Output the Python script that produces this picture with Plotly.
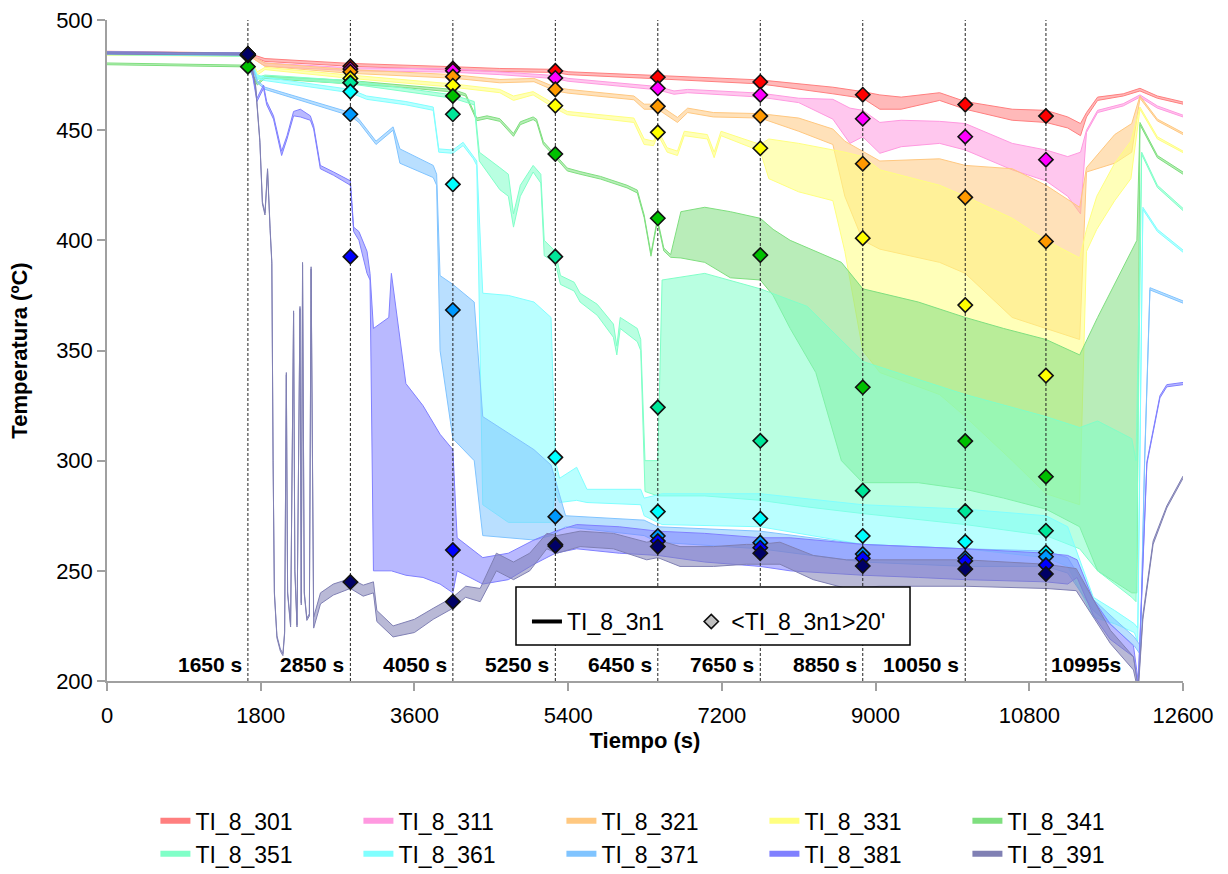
import plotly.graph_objects as go

# ---------------- data ----------------
names = ["TI_8_301", "TI_8_311", "TI_8_321", "TI_8_331", "TI_8_341",
         "TI_8_351", "TI_8_361", "TI_8_371", "TI_8_381", "TI_8_391"]

# each thermocouple: time (s), upper and lower envelope of the signal (ºC)
t_301 = [0, 1650, 1850, 2850, 4050, 4600, 5250, 5400, 6450, 7650,
         8500, 8850, 9050, 9300, 9750, 10050, 10600, 10995, 11250, 11400,
         11470, 11600, 11900, 12096, 12300, 12600]
hi_301 = [485.8, 485, 482.5, 480.3, 478.8, 478, 477.6, 476.5, 474.8, 472.8,
          469.5, 467.5, 466, 465, 467, 463, 459.5, 459, 456, 453,
          458, 465, 466.5, 469, 465.5, 462.8]
lo_301 = [485, 484.2, 481.2, 479, 477.3, 476.6, 476.2, 475.2, 473.3, 471,
          466.5, 464.5, 459.5, 459.5, 463.5, 459.5, 454.5, 453.5, 451, 447.5,
          456, 463.5, 465.5, 467.8, 464.5, 461.8]

t_311 = [0, 1650, 1850, 2850, 4050, 4600, 5250, 5400, 6450, 6640,
         6800, 7650, 8100, 8500, 8700, 8850, 9050, 9300, 9750, 10050,
         10600, 10995, 11250, 11400, 11470, 11600, 11900, 12096, 12300, 12600]
hi_311 = [485.5, 485, 480.5, 478.3, 477.8, 476.5, 474.8, 473.5, 469.8, 467.8,
          468.5, 466.8, 464.5, 464, 460, 459, 453.5, 454.5, 454, 453,
          444, 441, 438, 440, 450, 459, 462, 466, 461, 456.8]
lo_311 = [484.7, 484.2, 479, 477, 476.3, 475.2, 473.4, 472.2, 468.3, 466.3,
          467, 465, 462.5, 455, 444, 447, 439.5, 442.5, 444, 441,
          432, 427, 420, 412, 449, 458, 461, 465, 460, 456]

t_321 = [0, 1650, 1850, 2850, 4050, 4600, 5000, 5250, 5400, 6170,
         6290, 6450, 6680, 6800, 7100, 7650, 8100, 8500, 8640, 8850,
         9050, 9750, 10050, 10600, 10995, 11390, 11470, 11800, 12000, 12096,
         12300, 12600]
hi_321 = [485.3, 484.8, 480.5, 477.5, 475.2, 473, 473.5, 469.5, 468.5, 465.5,
          461.8, 461.8, 455.8, 460, 458, 457.5, 455.5, 450.5, 445, 440.5,
          436, 437, 434, 432.5, 425, 415, 433, 448, 453, 465.5,
          455, 448.8]
lo_321 = [484.5, 484, 479, 475.8, 473.6, 471.5, 472, 467.8, 466.8, 463.8,
          459.5, 459.5, 453.5, 458, 456, 455.5, 449.5, 443.5, 420, 400,
          396, 390, 385, 365, 360, 355, 431, 435, 440, 464.5,
          454.2, 448]

t_331 = [0, 1650, 1760, 1850, 2850, 4050, 4600, 4760, 4990, 5250,
         5390, 6170, 6290, 6400, 6450, 6560, 6680, 6760, 7030, 7110,
         7190, 7650, 7750, 8100, 8500, 8640, 8850, 9050, 9750, 10050,
         10600, 10995, 11390, 11470, 11590, 11800, 11990, 12096, 12300, 12600]
hi_331 = [484.8, 484.2, 476.5, 478.5, 475, 471, 468.5, 465.5, 467.5, 461.5,
          458.5, 455.5, 446, 445, 450, 442, 440.5, 449.5, 448, 440,
          449.5, 443.5, 446, 444, 441, 440, 438, 432, 425, 420,
          410, 400, 392, 405, 420, 435, 445, 460.5, 447, 440.5]
lo_331 = [484, 483.5, 475, 477.5, 473.5, 469.5, 467, 463.5, 466, 459.8,
          457, 453.5, 443.5, 443, 448, 440, 438.5, 447.5, 446, 437.5,
          447.5, 440.5, 428, 422, 418, 395, 350, 340, 330, 320,
          300, 285, 280, 395, 405, 418, 428, 459.5, 446, 439.8]

t_341 = [0, 1650, 1760, 1850, 2850, 3500, 4050, 4200, 4330, 4450,
         4600, 4760, 4840, 4990, 5030, 5110, 5250, 5390, 5540, 5780,
         6090, 6210, 6290, 6370, 6445, 6520, 6600, 6720, 7000, 7300,
         7650, 7800, 8000, 8300, 8600, 8850, 9500, 10050, 10500, 10995,
         11390, 11600, 11800, 12000, 12060, 12096, 12300, 12600]
hi_341 = [480.5, 479.5, 471.5, 474.5, 472.5, 470.5, 468.5, 466.5, 455.5, 456.5,
          455.2, 448.5, 453.8, 456, 455, 444.8, 438.8, 432.8, 431.2, 429,
          425, 422.8, 411.5, 394, 409.8, 396.5, 393.5, 413, 415, 413,
          410, 405, 400, 395, 390, 378, 372, 365, 360, 355,
          348, 365, 380, 395, 400, 453.5, 438.5, 431]
lo_341 = [479.7, 478.7, 470.5, 473.5, 471, 469.3, 467.3, 465.5, 454.3, 455.3,
          454, 447.2, 452.5, 454.8, 453.8, 443.5, 437.6, 431.5, 430, 427.8,
          423.8, 421.5, 410.3, 392.8, 408.6, 395.2, 392.3, 392, 390, 383,
          382, 375, 360, 340, 300, 290, 290, 287, 283, 278,
          270, 250, 245, 240, 240, 452.5, 437.5, 430]

t_351 = [0, 1650, 1760, 1850, 2850, 3500, 4050, 4300, 4360, 4600,
         4700, 4760, 4840, 4990, 5080, 5120, 5250, 5310, 5470, 5540,
         5740, 5930, 5970, 6010, 6210, 6250, 6300, 6450, 6500, 7000,
         7650, 8200, 8850, 10050, 10995, 11390, 11600, 12000, 12050, 12116,
         12300, 12600]
hi_351 = [485, 484.2, 474, 475, 472.5, 469, 466, 463, 440, 433,
          430, 412, 425, 434, 430, 400, 395, 384, 381, 376,
          371, 362, 352, 365, 360, 355, 300, 300, 382, 385,
          378, 370, 345, 330, 320, 315, 318, 310, 300, 440,
          425, 414.5]
lo_351 = [484.3, 483.5, 473, 474, 471, 467.5, 464.5, 461.5, 436, 423,
          420, 406, 420, 431, 426, 393, 390, 380, 377, 372,
          366, 356, 348, 360, 354, 350, 286, 284, 284, 284,
          282, 279, 276, 271, 266, 260, 250, 238, 236, 439,
          424, 413.5]

t_361 = [0, 1650, 1760, 1850, 2850, 3040, 3500, 3820, 3885, 4050,
         4170, 4290, 4330, 4400, 4700, 5000, 5200, 5250, 5300, 5500,
         5620, 6250, 6290, 6500, 7650, 8850, 10050, 10995, 11250, 11550,
         11800, 12030, 12070, 12130, 12300, 12600]
hi_361 = [485, 484.5, 475, 474, 468.5, 465.5, 463, 460.5, 441.5, 441,
          444.5, 438.5, 436, 376, 375, 372, 365, 300, 292, 297,
          287, 287, 283, 285, 285, 280, 278, 275, 270, 238,
          232, 226, 224, 415, 405, 395.6]
lo_361 = [484.3, 483.8, 473.5, 472.5, 467, 464, 461.5, 459, 440, 439.5,
          443, 437, 434, 280, 272, 272, 272, 286, 281, 282,
          281, 280, 275, 271, 270, 262, 260, 256, 252, 229,
          226, 222, 218, 414, 404, 394.6]

t_371 = [0, 1650, 1760, 1850, 2850, 2950, 3150, 3350, 3430, 3820,
         3860, 3900, 4050, 4300, 4400, 5000, 5200, 5370, 6290, 6450,
         7650, 8850, 10050, 10995, 11250, 11550, 11800, 12030, 12100, 12150,
         12213, 12600]
hi_371 = [485.5, 485, 472.5, 469.5, 458, 455, 445, 451.5, 441.5, 434,
          430, 384, 380, 372, 320, 305, 298, 275, 273, 270,
          268, 262, 260, 259, 256, 237, 228, 220, 216, 300,
          378.5, 372.5]
lo_371 = [484.8, 484.3, 471.5, 468.5, 456.5, 453.5, 443.5, 450, 435, 428.5,
          425, 350, 310, 300, 266, 264, 266, 270, 266, 263,
          260, 254, 252, 252, 249, 232, 224, 216, 212, 298,
          377.5, 371.5]

t_381 = [0, 1650, 1710, 1756, 1833, 1870, 1950, 2045, 2108, 2185,
         2264, 2381, 2420, 2498, 2654, 2850, 2888, 2950, 3045, 3080,
         3120, 3300, 3330, 3500, 3700, 3900, 4050, 4100, 4400, 4700,
         5000, 5250, 5500, 6000, 6450, 7000, 7650, 8000, 8850, 9500,
         10050, 10995, 11250, 11360, 11548, 11745, 12020, 12075, 12177, 12330,
         12410, 12600]
hi_381 = [485.5, 485, 474.5, 464.5, 470.5, 463, 456.5, 440.5, 447.5, 458.5,
          459.5, 456.5, 452, 434, 431, 427, 406, 404, 395, 385,
          360, 365, 385, 335, 325, 312, 305, 265, 256, 258,
          264, 268, 271, 270, 268, 267, 265, 265, 262, 261,
          260, 258, 257, 255, 237, 226, 216, 200, 299.5, 329.5,
          334.5, 335.5]
lo_381 = [484.8, 484.3, 473.5, 463, 469, 461.5, 455, 438.5, 446, 456.5,
          456, 454.5, 450.5, 432.5, 429.5, 425, 404, 400, 385, 382,
          250, 250, 250, 248, 247, 244, 240, 250, 244, 246,
          253, 258, 260, 258, 257, 254, 252, 250, 248, 247,
          246, 245, 244, 247, 230, 219, 211, 197, 298.5, 328.5,
          333.5, 334.5]

t_391 = [0, 1650, 1700, 1740, 1790, 1820, 1850, 1880, 1910, 1930,
         1945, 1960, 1990, 2030, 2060, 2080, 2100, 2115, 2150, 2185,
         2200, 2225, 2260, 2275, 2290, 2310, 2340, 2370, 2390, 2410,
         2420, 2500, 2650, 2850, 3000, 3120, 3160, 3350, 3600, 3820,
         4050, 4200, 4370, 4560, 4760, 4950, 5150, 5270, 5540, 5930,
         6320, 6450, 6710, 7100, 7490, 7650, 7880, 8270, 8660, 9050,
         10050, 10995, 11350, 11550, 11750, 12020, 12075, 12130, 12250, 12410,
         12600]
hi_391 = [485.5, 485, 478.5, 470.5, 445.5, 417.5, 412.5, 432.5, 405.5, 390.5,
          300, 240.5, 220.5, 214.5, 212.5, 222.5, 340, 240.5, 225.5, 368,
          250.5, 225.5, 370, 235.5, 390, 240.5, 228.5, 230.5, 388, 240.5,
          229, 240, 244, 246.5, 243.5, 245, 232, 225, 228, 233,
          238, 243, 242, 258, 254, 258, 267, 266, 268, 267,
          263, 264, 261, 261, 262, 262, 263, 257, 255, 255,
          255, 253, 251, 237, 223, 211, 197, 230, 263.5, 279.5,
          293]
lo_391 = [484.5, 484, 477.5, 469.5, 444.5, 416.5, 411.5, 431.5, 404.5, 389.5,
          299, 239.5, 219.5, 213.5, 211.5, 221.5, 339, 239.5, 224.5, 367,
          249.5, 224.5, 369, 234.5, 389, 239.5, 227.5, 229.5, 387, 239.5,
          224, 235, 239, 242, 238.5, 240, 227, 220, 222, 228,
          233, 238, 236, 250, 246, 250, 260, 258, 261, 260,
          255, 256, 252, 252, 253, 253, 253, 246, 242, 243,
          243, 242, 241, 229, 217, 205, 195, 228, 262, 278.5,
          292]

# 20-minute averages at the marked instants
t_avg = [1650, 2850, 4050, 5250, 6450, 7650, 8850, 10050, 10995]
avg_labels = ["1650 s", "2850 s", "4050 s", "5250 s", "6450 s",
              "7650 s", "8850 s", "10050 s", "10995s"]
avg_301 = [484.5, 479.0, 478.0, 476.9, 474.0, 471.9, 466.1, 461.6, 456.4]
avg_311 = [484.5, 477.8, 477.0, 473.7, 469.0, 466.0, 455.2, 447.0, 436.6]
avg_321 = [484.0, 476.5, 474.3, 468.5, 460.8, 456.4, 434.8, 419.5, 399.5]
avg_331 = [484.0, 473.5, 470.2, 461.1, 449.0, 441.8, 401.0, 370.6, 338.6]
avg_341 = [478.8, 471.5, 465.5, 439.2, 410.0, 393.3, 333.3, 308.9, 292.7]
avg_351 = [484.0, 471.5, 457.2, 392.6, 324.2, 309.0, 286.4, 277.1, 268.2]
avg_361 = [484.0, 467.5, 425.4, 301.5, 276.9, 273.7, 265.8, 263.2, 258.3]
avg_371 = [484.2, 457.2, 368.4, 274.6, 265.8, 262.8, 257.6, 255.8, 256.4]
avg_381 = [484.5, 392.6, 259.4, 262.0, 263.5, 260.5, 255.7, 254.5, 252.6]
avg_391 = [484.5, 244.9, 236.0, 261.3, 261.0, 258.0, 252.2, 250.8, 248.6]

x_ticks = [0, 1800, 3600, 5400, 7200, 9000, 10800, 12600]
x_tick_labels = ["0", "1800", "3600", "5400", "7200", "9000", "10800", "12600"]
y_ticks = [200, 250, 300, 350, 400, 450, 500]

# ---------------- styles ----------------
line_colors = ["#FF7F7F", "#FF99E0", "#FFC880", "#FFFF80", "#7FDF7F",
               "#80FFC8", "#80FFFF", "#80C4FF", "#8080FF", "#8080B4"]
marker_colors = ["#FF0000", "#FF00FF", "#FF9900", "#FFFF00", "#00C000",
                 "#00E699", "#00FFFF", "#0099FF", "#0000FF", "#000066"]
FONT = "Liberation Sans, Arial, sans-serif"

series = [
    (t_301, hi_301, lo_301, avg_301), (t_311, hi_311, lo_311, avg_311),
    (t_321, hi_321, lo_321, avg_321), (t_331, hi_331, lo_331, avg_331),
    (t_341, hi_341, lo_341, avg_341), (t_351, hi_351, lo_351, avg_351),
    (t_361, hi_361, lo_361, avg_361), (t_371, hi_371, lo_371, avg_371),
    (t_381, hi_381, lo_381, avg_381), (t_391, hi_391, lo_391, avg_391),
]


def rgba(hex_color, a):
    h = hex_color.lstrip("#")
    return "rgba(%d,%d,%d,%.2f)" % (int(h[0:2], 16), int(h[2:4], 16), int(h[4:6], 16), a)


fig = go.Figure()

# signal envelopes (lower edge, then upper edge filled down to it)
for name, col, (t, hi, lo, _) in zip(names, line_colors, series):
    fig.add_trace(go.Scatter(x=t, y=lo, mode="lines", line=dict(color=col, width=1),
                             showlegend=False, hoverinfo="skip"))
    fig.add_trace(go.Scatter(x=t, y=hi, mode="lines", line=dict(color=col, width=1),
                             fill="tonexty", fillcolor=rgba(col, 0.55),
                             showlegend=False, name=name))

# dashed guide lines at the averaging instants
gx, gy = [], []
for t in t_avg:
    gx += [t, t, None]
    gy += [200, 500, None]
fig.add_trace(go.Scatter(x=gx, y=gy, mode="lines", showlegend=False, hoverinfo="skip",
                         line=dict(color="#222222", width=1, dash="3px,2px")))

# 20-minute averages
for name, col, (_, _, _, avg) in zip(names, marker_colors, series):
    fig.add_trace(go.Scatter(x=t_avg, y=avg, mode="markers", showlegend=False,
                             name=name + " 20'",
                             marker=dict(symbol="diamond", size=11, color=col,
                                         line=dict(color="#111111", width=1.6))))

# legend entries for each thermocouple
for name, col in zip(names, line_colors):
    fig.add_trace(go.Scatter(x=[None], y=[None], mode="lines", name=name,
                             line=dict(color=col, width=6), legend="legend"))

# key for line / average marker
fig.add_trace(go.Scatter(x=[None], y=[None], mode="lines", name="TI_8_3n1",
                         line=dict(color="black", width=4), legend="legend2"))
fig.add_trace(go.Scatter(x=[None], y=[None], mode="markers", name="&lt;TI_8_3n1&gt;20'",
                         marker=dict(symbol="diamond", size=11, color="#C0C0C0",
                                     line=dict(color="#111111", width=1.6)),
                         legend="legend3"))

annotations = []
for t, lab in zip(t_avg, avg_labels):
    last = not lab.endswith(" s")
    annotations.append(dict(x=t, y=207.5, xref="x", yref="y", text="<b>%s</b>" % lab,
                            showarrow=False, xanchor="left" if last else "right",
                            xshift=3 if last else -4, yanchor="middle",
                            font=dict(family=FONT, size=21, color="black")))

# frame of the key box
shapes = [dict(type="rect", xref="paper", yref="paper", x0=0.3801, x1=0.7463,
               y0=0.0545, y1=0.1422, line=dict(color="black", width=1.5),
               fillcolor="white", layer="above")]

key_legend = dict(orientation="h", yanchor="top", xanchor="left", y=0.1225,
                  font=dict(size=23), bgcolor="rgba(0,0,0,0)", borderwidth=0)

fig.update_layout(
    width=1228, height=874,
    margin=dict(l=107, r=45, t=20, b=193, autoexpand=False),
    paper_bgcolor="white", plot_bgcolor="white",
    font=dict(family=FONT, size=22, color="black"),
    annotations=annotations,
    shapes=shapes,
    xaxis=dict(range=[0, 12600], tickvals=x_ticks, ticktext=x_tick_labels,
               ticks="outside", ticklen=8,
               tickcolor="#A0A0A0", tickwidth=1.5, showline=True, linecolor="#A0A0A0",
               linewidth=1.5, showgrid=False, zeroline=False, ticklabelstandoff=6,
               tickfont=dict(size=22),
               title=dict(text="<b>Tiempo (s)</b>", font=dict(size=22), standoff=2)),
    yaxis=dict(range=[200, 500], tickvals=y_ticks, ticks="outside", ticklen=8,
               tickcolor="#A0A0A0", tickwidth=1.5, showline=True, linecolor="#A0A0A0",
               linewidth=1.5, showgrid=False, zeroline=False,
               tickfont=dict(size=22),
               title=dict(text="<b>Temperatura (ºC)</b>", font=dict(size=22), standoff=22)),
    legend=dict(orientation="h", x=0.045, y=-0.179, xanchor="left", yanchor="top",
                entrywidth=158, entrywidthmode="pixels", font=dict(size=23),
                bgcolor="rgba(0,0,0,0)", traceorder="normal"),
    legend2=dict(key_legend, x=0.3903),
    legend3=dict(key_legend, x=0.5430),
)

fig.write_html("out.html")
